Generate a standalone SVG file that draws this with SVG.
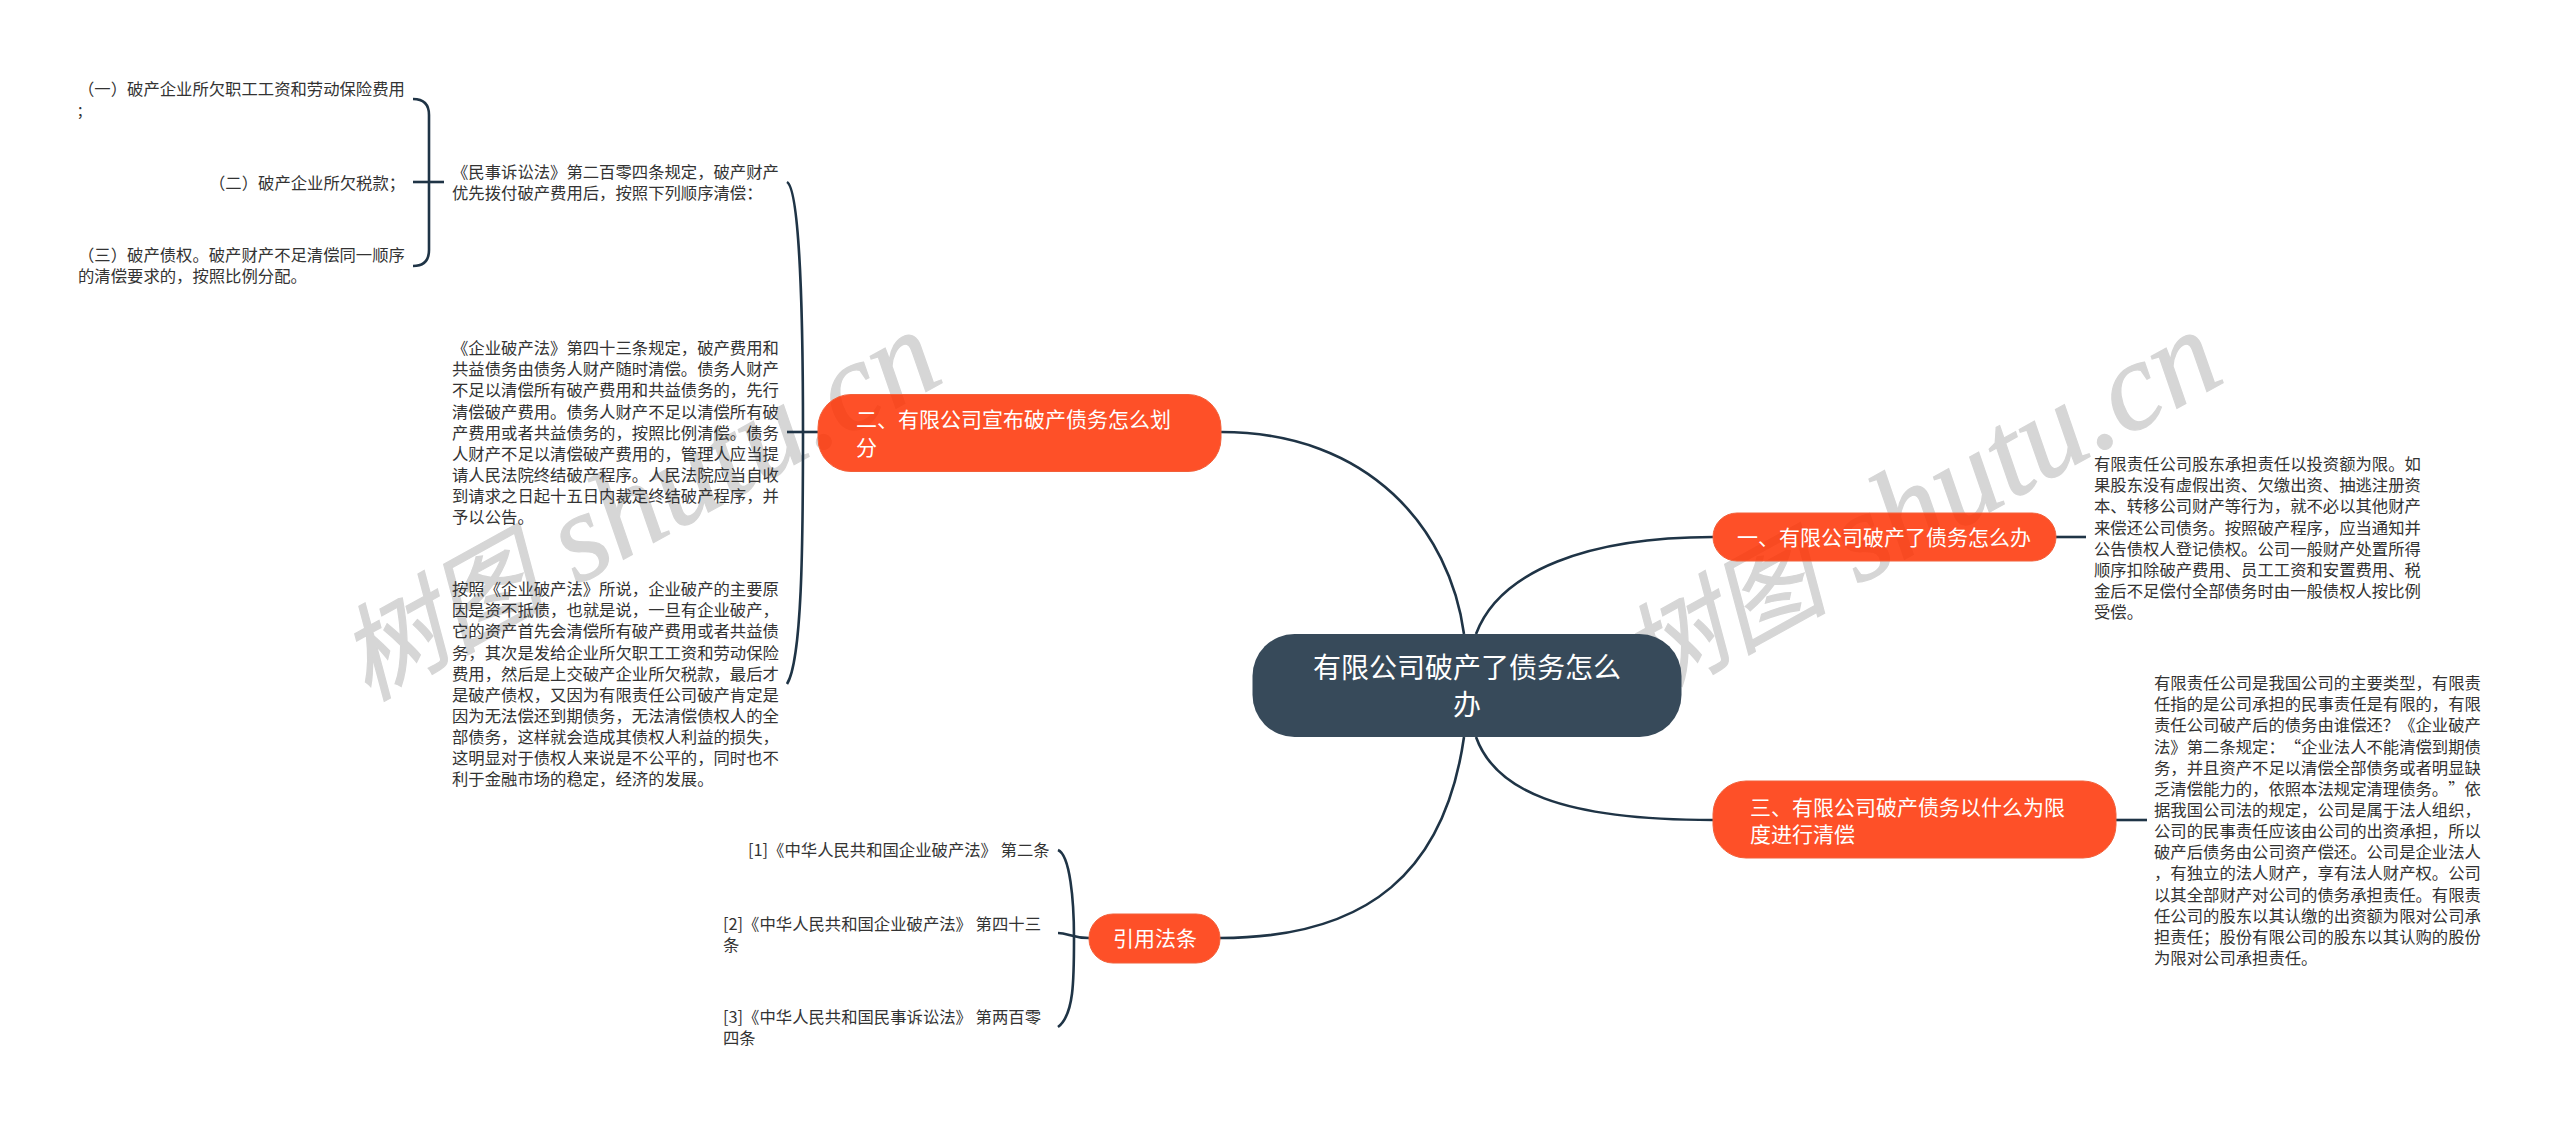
<svg xmlns="http://www.w3.org/2000/svg" width="2560" height="1126" viewBox="0 0 2560 1126">
<style>
text{font-family:"Noto Sans CJK SC","Noto Sans",sans-serif;text-spacing-trim:space-all}
.t{font-size:16.35px;fill:#333}
.b{font-size:21px;fill:#fff}
.c{font-size:28px;fill:#fff}
.o{fill:#fe3102;fill-opacity:.85;stroke:#f2603a;stroke-width:1}
.l{fill:none;stroke:#1f3446;stroke-width:2.6}
.w{font-family:"Liberation Serif","Noto Sans CJK SC",serif;font-style:italic;font-size:126px;fill:#d6d6d6;stroke:#d6d6d6;stroke-width:1.2;text-anchor:end}
.wc{font-size:104px}
</style>
<rect width="2560" height="1126" fill="#fff"/>
<g id="watermarks">
<text class="w" transform="translate(947 380) rotate(-29)"><tspan class="wc">树图</tspan> shutu.cn</text>
<text class="w" transform="translate(2228 380) rotate(-29)"><tspan class="wc">树图</tspan> shutu.cn</text>
</g>
<g id="connectors">
<path class="l" d="M1221 432C1370 432 1450 530 1464 634"/>
<path class="l" d="M1476 634C1500 570 1590 537 1713 537"/>
<path class="l" d="M1476 737C1495 790 1560 820 1713 820"/>
<path class="l" d="M1464 737C1445 870 1370 938 1220 938"/>
<path class="l" d="M2056 537H2086"/>
<path class="l" d="M2116 820H2147"/>
<path class="l" d="M787 182C800 190 803 320 803 432C803 545 802 660 787 684"/>
<path class="l" d="M787 432H818"/>
<path class="l" d="M413 99Q429 99 429 115V250Q429 266 413 266"/>
<path class="l" d="M413 182H444"/>
<path class="l" d="M1058 850C1070 855 1074 900 1074 938C1074 980 1074 1015 1058 1027"/>
<path class="l" d="M1058 933C1068 933 1072 938 1089 938"/>
</g>
<g id="root">
<rect x="1252.500" y="634" width="429" height="103" rx="42" fill="#374a5a"/>
<text class="c" x="1313" y="678">有限公司破产了债务怎么</text>
<text class="c" x="1453" y="715">办</text>
</g>
<g id="branch-1">
<rect class="o" x="1713" y="513" width="343" height="48" rx="24"/>
<text class="b" x="1737" y="545">一、有限公司破产了债务怎么办</text>
</g>
<g id="branch-2">
<rect class="o" x="818" y="394.500" width="403" height="77" rx="33"/>
<text class="b" x="856" y="427">二、有限公司宣布破产债务怎么划</text>
<text class="b" x="856" y="455">分</text>
</g>
<g id="branch-3">
<rect class="o" x="1713" y="781" width="403" height="77" rx="33"/>
<text class="b" x="1750" y="815">三、有限公司破产债务以什么为限</text>
<text class="b" x="1750" y="842">度进行清偿</text>
</g>
<g id="branch-4">
<rect class="o" x="1089" y="914" width="131" height="49" rx="24"/>
<text class="b" x="1113" y="946">引用法条</text>
</g>
<g id="leaf-1-1">
<text class="t" x="2094" y="470">有限责任公司股东承担责任以投资额为限。如</text>
<text class="t" x="2094" y="491">果股东没有虚假出资、欠缴出资、抽逃注册资</text>
<text class="t" x="2094" y="512">本、转移公司财产等行为，就不必以其他财产</text>
<text class="t" x="2094" y="533.500">来偿还公司债务。按照破产程序，应当通知并</text>
<text class="t" x="2094" y="554.500">公告债权人登记债权。公司一般财产处置所得</text>
<text class="t" x="2094" y="575.500">顺序扣除破产费用、员工工资和安置费用、税</text>
<text class="t" x="2094" y="597">金后不足偿付全部债务时由一般债权人按比例</text>
<text class="t" x="2094" y="618">受偿。</text>
</g>
<g id="leaf-3-1">
<text class="t" x="2154" y="689">有限责任公司是我国公司的主要类型，有限责</text>
<text class="t" x="2154" y="710">任指的是公司承担的民事责任是有限的，有限</text>
<text class="t" x="2154" y="731">责任公司破产后的债务由谁偿还？《企业破产</text>
<text class="t" x="2154" y="752.500">法》第二条规定：“企业法人不能清偿到期债</text>
<text class="t" x="2154" y="773.500">务，并且资产不足以清偿全部债务或者明显缺</text>
<text class="t" x="2154" y="794.500">乏清偿能力的，依照本法规定清理债务。”依</text>
<text class="t" x="2154" y="816">据我国公司法的规定，公司是属于法人组织，</text>
<text class="t" x="2154" y="837">公司的民事责任应该由公司的出资承担，所以</text>
<text class="t" x="2154" y="858">破产后债务由公司资产偿还。公司是企业法人</text>
<text class="t" x="2154" y="879">，有独立的法人财产，享有法人财产权。公司</text>
<text class="t" x="2154" y="900.500">以其全部财产对公司的债务承担责任。有限责</text>
<text class="t" x="2154" y="921.500">任公司的股东以其认缴的出资额为限对公司承</text>
<text class="t" x="2154" y="942.500">担责任；股份有限公司的股东以其认购的股份</text>
<text class="t" x="2154" y="963.500">为限对公司承担责任。</text>
</g>
<g id="leaf-2-1">
<text class="t" x="452" y="178">《民事诉讼法》第二百零四条规定，破产财产</text>
<text class="t" x="452" y="199">优先拨付破产费用后，按照下列顺序清偿：</text>
</g>
<g id="leaf-2-1-1">
<text class="t" x="78" y="95">（一）破产企业所欠职工工资和劳动保险费用</text>
<text class="t" x="78" y="116">;</text>
</g>
<g id="leaf-2-1-2">
<text class="t" x="209" y="189">（二）破产企业所欠税款；</text>
</g>
<g id="leaf-2-1-3">
<text class="t" x="78" y="261">（三）破产债权。破产财产不足清偿同一顺序</text>
<text class="t" x="78" y="282">的清偿要求的，按照比例分配。</text>
</g>
<g id="leaf-2-2">
<text class="t" x="452" y="354">《企业破产法》第四十三条规定，破产费用和</text>
<text class="t" x="452" y="375">共益债务由债务人财产随时清偿。债务人财产</text>
<text class="t" x="452" y="396">不足以清偿所有破产费用和共益债务的，先行</text>
<text class="t" x="452" y="417.500">清偿破产费用。债务人财产不足以清偿所有破</text>
<text class="t" x="452" y="438.500">产费用或者共益债务的，按照比例清偿。债务</text>
<text class="t" x="452" y="459.500">人财产不足以清偿破产费用的，管理人应当提</text>
<text class="t" x="452" y="481">请人民法院终结破产程序。人民法院应当自收</text>
<text class="t" x="452" y="502">到请求之日起十五日内裁定终结破产程序，并</text>
<text class="t" x="452" y="523">予以公告。</text>
</g>
<g id="leaf-2-3">
<text class="t" x="452" y="595">按照《企业破产法》所说，企业破产的主要原</text>
<text class="t" x="452" y="616">因是资不抵债，也就是说，一旦有企业破产，</text>
<text class="t" x="452" y="637">它的资产首先会清偿所有破产费用或者共益债</text>
<text class="t" x="452" y="658.500">务，其次是发给企业所欠职工工资和劳动保险</text>
<text class="t" x="452" y="679.500">费用，然后是上交破产企业所欠税款，最后才</text>
<text class="t" x="452" y="700.500">是破产债权，又因为有限责任公司破产肯定是</text>
<text class="t" x="452" y="722">因为无法偿还到期债务，无法清偿债权人的全</text>
<text class="t" x="452" y="743">部债务，这样就会造成其债权人利益的损失，</text>
<text class="t" x="452" y="764">这明显对于债权人来说是不公平的，同时也不</text>
<text class="t" x="452" y="785">利于金融市场的稳定，经济的发展。</text>
</g>
<g id="leaf-4-1">
<text class="t" x="748" y="856">[1]《中华人民共和国企业破产法》 第二条</text>
</g>
<g id="leaf-4-2">
<text class="t" x="723" y="929.500">[2]《中华人民共和国企业破产法》 第四十三</text>
<text class="t" x="723" y="950.500">条</text>
</g>
<g id="leaf-4-3">
<text class="t" x="723" y="1022.500">[3]《中华人民共和国民事诉讼法》 第两百零</text>
<text class="t" x="723" y="1043.500">四条</text>
</g>
</svg>
